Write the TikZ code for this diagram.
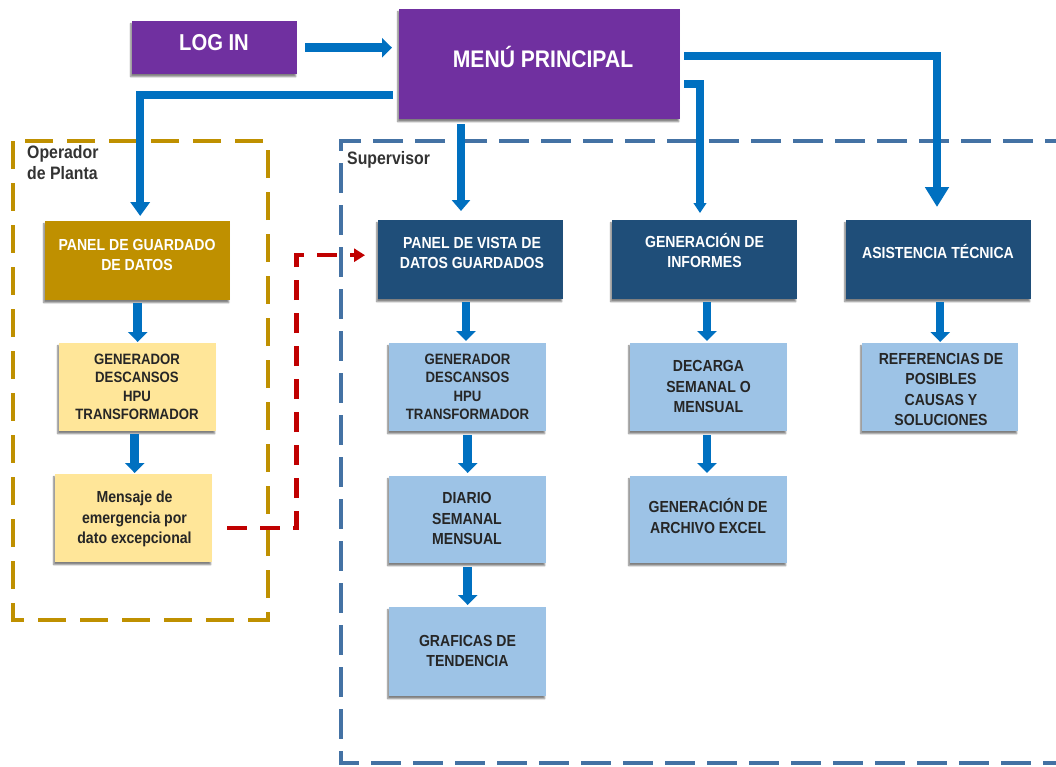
\documentclass[tikz,border=0pt]{standalone}
\usepackage{fontspec}
\setmainfont{Liberation Sans}[FakeStretch=0.88]
\usetikzlibrary{arrows.meta,shadows.blur,calc}

\definecolor{menupurple}{HTML}{7030A0}
\definecolor{flowblue}{HTML}{0070C0}
\definecolor{darkblue}{HTML}{1F4E79}
\definecolor{lightblue}{HTML}{9DC3E6}
\definecolor{paleyellow}{HTML}{FFE699}
\definecolor{goldbrown}{HTML}{BF9000}
\definecolor{alertred}{HTML}{C00000}
\definecolor{frameblue}{HTML}{4472A4}
\definecolor{textgray}{HTML}{262626}
\definecolor{labelgray}{HTML}{333333}

\begin{document}
\begin{tikzpicture}[x=1pt,y=-1pt,
  card/.style={rectangle, inner sep=0pt, anchor=north west,
    blur shadow={shadow xshift=-1.5pt, shadow yshift=-2.5pt,
      shadow blur radius=1.5pt, shadow blur steps=6, shadow opacity=50}},
  purplecard/.style={card, fill=menupurple},
  headcard/.style={card, fill=darkblue, minimum width=185pt, minimum height=79pt},
  goldcard/.style={headcard, fill=goldbrown},
  subcard/.style={card, fill=lightblue, minimum width=157pt, minimum height=88pt},
  yellowcard/.style={subcard, fill=paleyellow},
  wtxt/.style={text=white, font=\bfseries\fontsize{16}{20}\selectfont, align=center, inner sep=0pt},
  dtxt/.style={text=textgray, font=\bfseries\fontsize{16}{20.3}\selectfont, align=center, inner sep=0pt},
  dtxtsmall/.style={dtxt, font=\bfseries\fontsize{15}{18.4}\selectfont},
  roletxt/.style={text=labelgray, font=\bfseries\fontsize{18}{21.5}\selectfont, align=left, inner sep=0pt},
  flow/.style={draw=flowblue, line width=7.5pt},
  shortarrow/.style={draw=flowblue, line width=8.5pt, -{Triangle[width=19pt,length=10pt]}},
  reddash/.style={draw=alertred, line width=4.5pt, dash pattern=on 20pt off 13pt,
    -{Triangle[width=13pt,length=11pt]}},
]
\useasboundingbox (0,0) rectangle (1056,766);

% role frames
\draw[goldbrown, line width=4pt, dash pattern=on 28pt off 14pt]
  (13,141) rectangle (268,620);
\draw[frameblue, line width=4pt, dash pattern=on 30pt off 12pt]
  (1075,141) -- (341,141) -- (341,763) -- (1075,763);
\node[roletxt, anchor=north west] (lblOperador) at (27,145) {Operador\\de Planta};
\node[roletxt, anchor=base west] (lblSupervisor) at (347,164) {Supervisor};

% top level
\node[purplecard, minimum width=165pt, minimum height=53pt] (login) at (132,21) {};
\node[wtxt, font=\bfseries\fontsize{23}{26}\selectfont, anchor=base] (tLogin) at (214,50) {LOG IN};
\node[purplecard, minimum width=281pt, minimum height=110pt] (menu) at (399,9) {};
\node[wtxt, font=\bfseries\fontsize{24}{28}\selectfont, anchor=base] (tMenu) at (543,67) {MENÚ PRINCIPAL};

% operator column
\node[goldcard] (guardado) at (45,221) {};
\node[wtxt] (tGuardado) at (137,254.5) {PANEL DE GUARDADO\\DE DATOS};
\node[yellowcard] (genOp) at (59,343) {};
\node[dtxtsmall] (tGenOp) at (137,387) {GENERADOR\\DESCANSOS\\HPU\\TRANSFORMADOR};
\node[yellowcard] (mensaje) at (55,474) {};
\node[dtxt] (tMensaje) at (134.5,519) {Mensaje de\\emergencia por\\dato excepcional};

% supervisor columns
\node[headcard] (vista) at (378,220) {};
\node[wtxt] (tVista) at (472,252.5) {PANEL DE VISTA DE\\DATOS GUARDADOS};
\node[headcard] (informes) at (612,220) {};
\node[wtxt] (tInformes) at (704.5,250.5) {GENERACIÓN DE\\INFORMES};
\node[headcard] (asist) at (846,220) {};
\node[wtxt, anchor=base] (tAsist) at (938,258) {ASISTENCIA TÉCNICA};

\node[subcard] (genSup) at (389,343) {};
\node[dtxtsmall] (tGenSup) at (467.5,387) {GENERADOR\\DESCANSOS\\HPU\\TRANSFORMADOR};
\node[subcard, minimum height=87pt] (diario) at (389,476) {};
\node[dtxt] (tDiario) at (467,518.5) {DIARIO\\SEMANAL\\MENSUAL};
\node[subcard, minimum height=89pt] (graficas) at (389,607) {};
\node[dtxt] (tGraficas) at (467.5,651) {GRAFICAS DE\\TENDENCIA};

\node[subcard] (decarga) at (630,343) {};
\node[dtxt] (tDecarga) at (708.5,386.5) {DECARGA\\SEMANAL O\\MENSUAL};
\node[subcard, minimum height=87pt] (excel) at (630,476) {};
\node[dtxt] (tExcel) at (708,516) {GENERACIÓN DE\\ARCHIVO EXCEL};

\node[subcard, minimum width=156pt] (refs) at (862,343) {};
\node[dtxt] (tRefs) at (941,389.5) {REFERENCIAS DE\\POSIBLES\\CAUSAS Y\\SOLUCIONES};

% connectors from the main menu
\draw[shortarrow, shorten <=8pt, shorten >=7pt] (login.east) -- (login.east -| menu.west);
\draw[flow, -{Triangle[width=19pt,length=14pt]}, shorten <=6pt, shorten >=5pt]
  (menu.west |- 0,95) -| ([xshift=2.5pt]guardado.north);
\draw[flow, -{Triangle[width=18pt,length=11pt]}, shorten <=5pt, shorten >=9pt]
  (461,0 |- menu.south) -- (461,0 |- vista.north);
\draw[flow, -{Triangle[width=12.5pt,length=10pt]}, shorten <=4pt, shorten >=7pt]
  (menu.east |- 0,84) -| (700,0 |- informes.north);
\draw[flow, -{Triangle[width=23pt,length=20pt]}, shorten <=4pt, shorten >=13pt]
  (menu.east |- 0,56) -| (937,0 |- asist.north);

% steps inside each column
\draw[shortarrow, shorten <=3pt, shorten >=1pt] (guardado.south -| genOp.north) -- (genOp.north);
\draw[shortarrow, shorten <=3pt, shorten >=1pt] ([xshift=-3pt]genOp.south) -- ([xshift=-3pt]genOp.south |- mensaje.north);
\draw[shortarrow, shorten <=3pt, shorten >=2pt] (vista.south -| 466,0) -- (466,0 |- genSup.north);
\draw[shortarrow, shorten <=4pt, shorten >=3pt] (genSup.south) -- (diario.north);
\draw[shortarrow, shorten <=4pt, shorten >=2pt] (diario.south) -- (graficas.north);
\draw[shortarrow, shorten <=3pt, shorten >=2pt] (informes.south -| 707,0) -- (707,0 |- decarga.north);
\draw[shortarrow, shorten <=4pt, shorten >=3pt] (decarga.south -| 707,0) -- (707,0 |- excel.north);
\draw[shortarrow, shorten <=3pt, shorten >=1pt] (asist.south -| refs.north) -- (refs.north);

% alert path from the operator to the supervisor panel
\draw[reddash, shorten <=15pt, shorten >=13pt]
  ([yshift=-10pt]mensaje.east) -- ++(84,0) |- ([yshift=4.5pt]vista.west);
\end{tikzpicture}
\end{document}
